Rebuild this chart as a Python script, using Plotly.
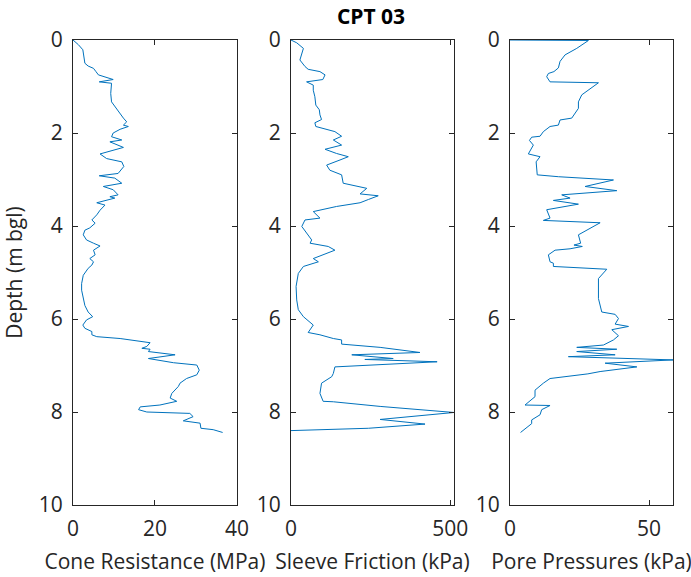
import plotly.graph_objects as go

# CPT 03 sounding: depth (m bgl) and measured values
cone_depth = [0.00, 0.10, 0.21, 0.36, 0.50, 0.56, 0.61, 0.68, 0.75, 0.85, 0.90, 0.93, 1.15, 1.33,
              1.43, 1.54, 1.68, 1.76, 1.83, 1.86, 1.92, 2.00, 2.08, 2.15, 2.19, 2.31, 2.45, 2.55,
              2.62, 2.72, 2.87, 2.92, 2.97, 3.08, 3.15, 3.22, 3.33, 3.37, 3.40, 3.50, 3.55, 3.66,
              3.76, 3.87, 3.94, 4.04, 4.09, 4.19, 4.30, 4.37, 4.43, 4.52, 4.62, 4.70, 4.77, 4.84,
              4.91, 5.06, 5.24, 5.38, 5.53, 5.71, 5.85, 5.95, 6.02, 6.13, 6.20, 6.27, 6.34, 6.38,
              6.42, 6.51, 6.59, 6.63, 6.65, 6.70, 6.77, 6.85, 6.94, 6.99, 7.10, 7.20, 7.28, 7.38,
              7.45, 7.60, 7.70, 7.77, 7.85, 7.89, 7.95, 8.00, 8.03, 8.10, 8.19, 8.24, 8.35, 8.38,
              8.44]
cone_mpa = [0.0, 1.3, 2.4, 2.7, 2.9, 3.7, 5.0, 5.6, 6.2, 9.8, 6.4, 9.4, 9.2, 9.4,
            10.2, 11.0, 12.3, 13.1, 12.3, 13.5, 11.5, 9.8, 9.4, 11.9, 9.0, 12.3, 6.6, 8.2,
            11.9, 12.4, 11.0, 6.4, 10.2, 11.9, 7.4, 9.8, 11.0, 9.0, 10.2, 5.8, 7.8, 6.6,
            5.8, 4.6, 5.4, 4.1, 2.9, 2.5, 3.3, 5.0, 6.6, 5.0, 5.4, 4.1, 5.0, 4.6,
            3.7, 2.5, 2.1, 2.1, 2.5, 2.9, 3.7, 4.8, 3.3, 2.4, 2.9, 4.6, 4.6, 5.8,
            11.5, 18.8, 18.0, 16.8, 18.8, 18.4, 24.9, 18.4, 24.5, 30.2, 30.8, 30.2, 27.7, 26.1,
            25.7, 24.1, 23.7, 25.3, 21.2, 16.4, 16.0, 18.0, 28.5, 29.3, 26.9, 31.0, 31.2, 34.2,
            36.5]

sleeve_depth = [0.00, 0.06, 0.18, 0.32, 0.43, 0.57, 0.63, 0.68, 0.75, 0.85, 0.90, 0.97, 1.08,
                1.22, 1.40, 1.50, 1.61, 1.71, 1.78, 1.86, 1.90, 1.97, 2.07, 2.15, 2.26, 2.35,
                2.44, 2.51, 2.58, 2.69, 2.80, 2.90, 3.08, 3.14, 3.19, 3.31, 3.35, 3.43, 3.50,
                3.58, 3.69, 3.83, 3.87, 4.01, 4.16, 4.30, 4.37, 4.44, 4.52, 4.70, 4.77, 4.87,
                5.02, 5.30, 5.59, 5.80, 5.95, 6.13, 6.29, 6.34, 6.42, 6.45, 6.54, 6.61, 6.72,
                6.77, 6.85, 6.87, 6.92, 7.03, 7.17, 7.24, 7.38, 7.60, 7.77, 7.78, 7.88, 7.97,
                8.01, 8.16, 8.26, 8.35, 8.40]
sleeve_kpa = [0, 18, 39, 34, 28, 44, 54, 91, 107, 100, 49, 70, 70,
              75, 78, 89, 91, 96, 75, 78, 100, 138, 159, 133, 159, 107,
              143, 180, 154, 112, 122, 159, 164, 206, 238, 217, 274, 243, 217,
              143, 70, 91, 44, 34, 49, 65, 60, 117, 138, 70, 86, 39,
              23, 16, 18, 23, 39, 70, 54, 91, 133, 159, 159, 280, 405,
              191, 321, 232, 459, 138, 133, 128, 96, 91, 101, 133, 280, 431,
              512, 280, 421, 243, 0]

pore_depth = [0.00, 0.01, 0.18, 0.32, 0.46, 0.60, 0.68, 0.72, 0.79, 0.90, 0.92, 1.06, 1.18,
              1.33, 1.47, 1.68, 1.72, 1.83, 1.86, 1.97, 2.07, 2.09, 2.16, 2.26, 2.45, 2.51,
              2.62, 2.90, 2.94, 3.01, 3.15, 3.24, 3.33, 3.40, 3.45, 3.53, 3.65, 3.83, 3.88,
              3.93, 4.19, 4.37, 4.41, 4.44, 4.49, 4.52, 4.62, 4.77, 4.80, 4.87, 4.93, 5.13,
              5.56, 5.85, 5.90, 5.99, 6.11, 6.16, 6.23, 6.36, 6.45, 6.56, 6.61, 6.65, 6.70,
              6.77, 6.81, 6.88, 6.95, 7.03, 7.13, 7.18, 7.28, 7.38, 7.53, 7.67, 7.85, 7.86,
              7.95, 8.06, 8.17, 8.25, 8.34, 8.44]
pore_kpa = [0.0, 28.2, 24.0, 19.8, 18.0, 17.4, 15.8, 13.8, 13.2, 14.4, 31.8, 28.8, 25.8,
            24.6, 24.6, 22.2, 18.0, 17.4, 14.4, 12.0, 10.8, 7.8, 7.0, 8.4, 6.6, 10.8,
            9.4, 9.8, 17.4, 37.2, 27.0, 38.4, 18.6, 21.6, 15.6, 24.6, 13.2, 14.4, 12.0,
            32.4, 24.6, 25.4, 23.0, 26.0, 21.6, 16.2, 13.8, 14.4, 15.6, 15.6, 34.8, 31.8,
            31.8, 33.0, 37.8, 39.0, 37.8, 42.6, 36.6, 39.0, 37.2, 33.6, 24.0, 38.4, 24.0,
            37.8, 21.0, 58.6, 34.2, 45.6, 32.4, 28.0, 14.4, 12.0, 9.0, 9.0, 5.4, 14.4,
            11.4, 10.8, 7.8, 7.8, 6.0, 3.8]

x_titles = ["Cone Resistance (MPa)", "Sleeve Friction (kPa)", "Pore Pressures (kPa)"]
x_ticks = [[0, 20, 40], [0, 500], [0, 50]]
x_ranges = [[0, 40], [0, max(sleeve_kpa)], [0, max(pore_kpa)]]
depth_ticks = [0, 2, 4, 6, 8, 10]

LINE = "#0072BD"
AXIS = "#262626"
FONT = "Open Sans"
FS = 21

series = [(cone_mpa, cone_depth), (sleeve_kpa, sleeve_depth), (pore_kpa, pore_depth)]
domains = [[0.0, 0.2733], [0.3633, 0.635], [0.7283, 1.0]]

fig = go.Figure()
for i, (vals, dep) in enumerate(series):
    suffix = "" if i == 0 else str(i + 1)
    fig.add_trace(go.Scatter(
        x=vals, y=dep, mode="lines",
        line=dict(color=LINE, width=1),
        xaxis="x" + suffix, yaxis="y" + suffix,
        showlegend=False, hoverinfo="x+y",
    ))

axis_common = dict(
    showline=True, linecolor=AXIS, linewidth=1, mirror="allticks",
    ticks="inside", ticklen=5, tickcolor=AXIS, tickwidth=1,
    showgrid=False, zeroline=False, automargin=False,
    tickfont=dict(family=FONT, size=FS, color=AXIS),
)

layout = dict(
    width=691, height=577,
    margin=dict(l=73, r=18, t=40, b=72),
    paper_bgcolor="white", plot_bgcolor="white",
    font=dict(family=FONT, color=AXIS),
    title=dict(text="<b>CPT 03</b>", x=371 / 691, xref="container",
               y=1 - 17 / 577, yref="container", xanchor="center", yanchor="middle",
               font=dict(family=FONT, size=21, color="black")),
)

for i in range(3):
    suffix = "" if i == 0 else str(i + 1)
    layout["xaxis" + suffix] = dict(
        axis_common, domain=domains[i], range=x_ranges[i],
        tickmode="array", tickvals=x_ticks[i], ticktext=[str(t) for t in x_ticks[i]],
        anchor="y" + suffix, ticklabelstandoff=5,
        title=dict(text=x_titles[i], font=dict(family=FONT, size=FS, color=AXIS), standoff=13),
    )
    ydict = dict(
        axis_common, domain=[0, 1], range=[10, 0],
        tickmode="array", tickvals=depth_ticks, ticktext=[str(t) for t in depth_ticks],
        anchor="x" + suffix, ticklabelstandoff=5,
    )
    if i == 0:
        ydict["title"] = dict(text="Depth (m bgl)", font=dict(family=FONT, size=FS, color=AXIS),
                              standoff=10)
    layout["yaxis" + suffix] = ydict

fig.update_layout(**layout)
fig.write_html("out.html")
